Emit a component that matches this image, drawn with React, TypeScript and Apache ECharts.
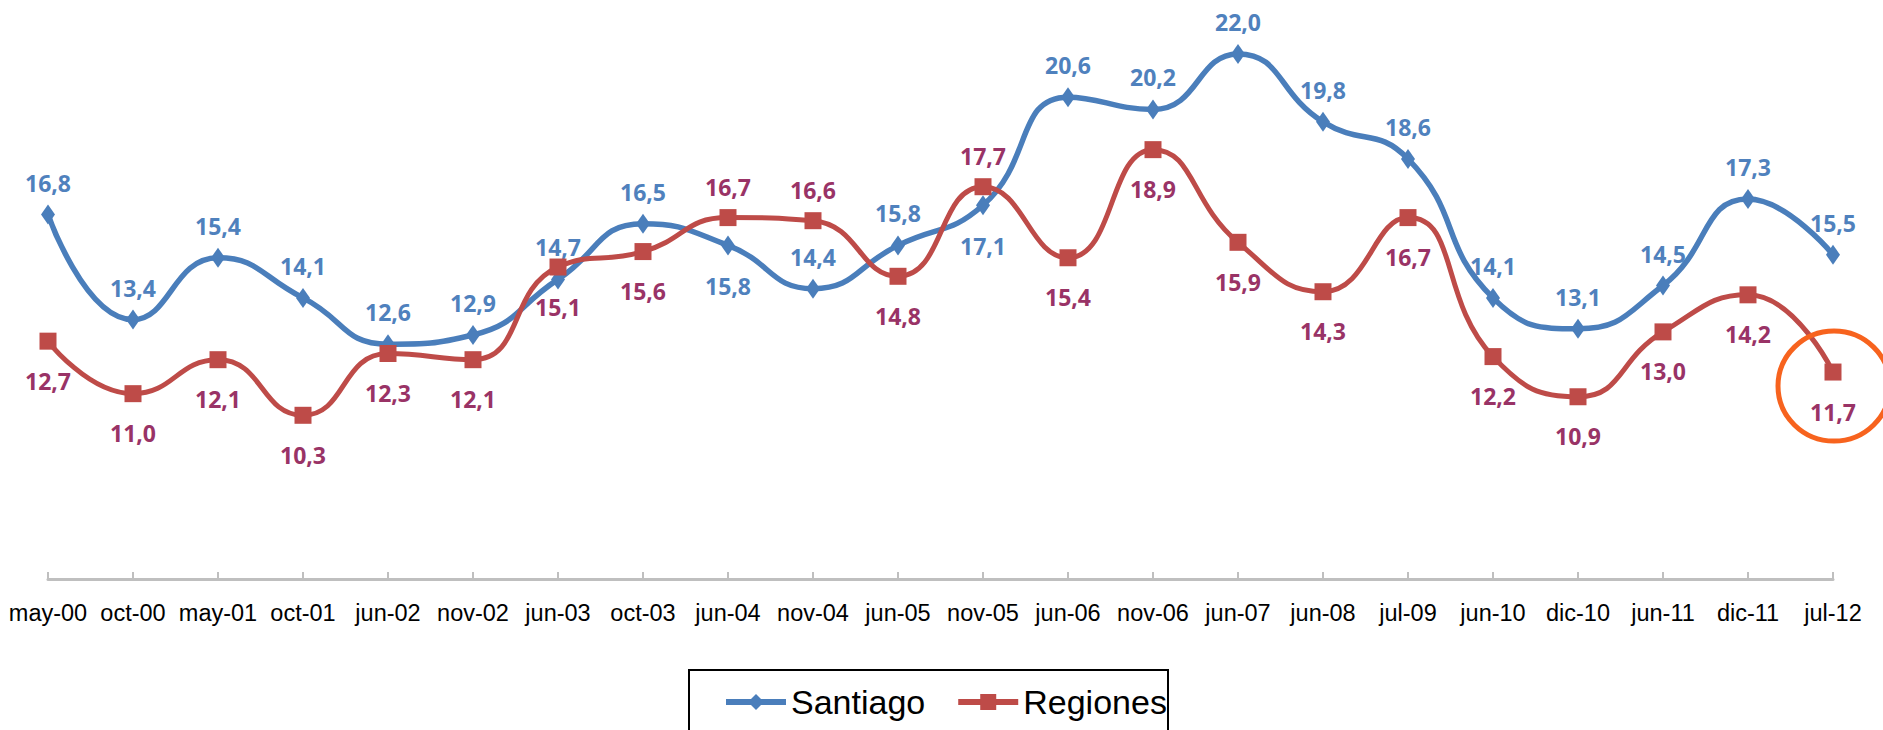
import React, { useEffect, useRef } from "react";
import * as echarts from "echarts";

const categories = [
  "may-00", "oct-00", "may-01", "oct-01", "jun-02", "nov-02", "jun-03", "oct-03",
  "jun-04", "nov-04", "jun-05", "nov-05", "jun-06", "nov-06", "jun-07", "jun-08",
  "jul-09", "jun-10", "dic-10", "jun-11", "dic-11", "jul-12",
];
const santiago = [
  16.8, 13.4, 15.4, 14.1, 12.6, 12.9, 14.7, 16.5, 15.8, 14.4, 15.8, 17.1,
  20.6, 20.2, 22.0, 19.8, 18.6, 14.1, 13.1, 14.5, 17.3, 15.5,
];
const regiones = [
  12.7, 11.0, 12.1, 10.3, 12.3, 12.1, 15.1, 15.6, 16.7, 16.6, 14.8, 17.7,
  15.4, 18.9, 15.9, 14.3, 16.7, 12.2, 10.9, 13.0, 14.2, 11.7,
];
// label placement per point ("top" = above marker, "bottom" = below)
const santiagoLabelPos = [
  "top", "top", "top", "top", "top", "top", "top", "top", "bottom", "top", "top", "bottom",
  "top", "top", "top", "top", "top", "top", "top", "top", "top", "top",
];
const regionesLabelPos = [
  "bottom", "bottom", "bottom", "bottom", "bottom", "bottom", "bottom", "bottom", "top", "top", "bottom", "top",
  "bottom", "bottom", "bottom", "bottom", "bottom", "bottom", "bottom", "bottom", "bottom", "bottom",
];
const seriesNames = ["Santiago", "Regiones"];

const BLUE = "#4A7EBB";
const RED = "#BE4B48";
const BLUE_LABEL = "#4F81BD";
const RED_LABEL = "#993366";
const NARROW = "'Liberation Sans', Arial, sans-serif";
const LABEL_FONT = "'Open Sans', 'Noto Sans', sans-serif";

const fmt = (v: number) => v.toFixed(1).replace(".", ",");

function buildData(values: number[], pos: string[]) {
  return values.map((v, i) => ({
    value: v,
    label: { position: pos[i], distance: pos[i] === "top" ? 10 : 19 },
  }));
}

export default function App() {
  const ref = useRef<HTMLDivElement>(null);

  useEffect(() => {
    if (!ref.current) return;
    const chart = echarts.init(ref.current, undefined, { renderer: "svg" });
    const labelBase = {
      show: true,
      fontFamily: LABEL_FONT,
      fontWeight: "bold" as const,
      fontSize: 23,
      lineHeight: 24,
      formatter: (p: any) => fmt(p.value),
    };
    chart.setOption({
      animation: false,
      backgroundColor: "#ffffff",
      grid: { left: 48, right: 50, top: 23, bottom: 151, containLabel: false },
      legend: {
        data: seriesNames,
        left: 723,
        top: 682,
        padding: 0,
        itemWidth: 60,
        itemHeight: 20,
        itemGap: 30,
        lineStyle: { width: 6 },
        textStyle: {
          fontFamily: NARROW,
          fontWeight: "normal",
          fontSize: 34,
          color: "#000",
          lineHeight: 40,
        },
      },
      xAxis: {
        type: "category",
        data: categories,
        boundaryGap: false,
        axisLine: { lineStyle: { color: "#BFBFBF", width: 3 } },
        axisTick: { show: true, inside: true, length: 7, lineStyle: { color: "#BFBFBF", width: 2 } },
        axisLabel: {
          interval: 0,
          color: "#000",
          fontFamily: NARROW,
          fontWeight: "normal",
          fontSize: 23.5,
          lineHeight: 28,
          margin: 20,
        },
        splitLine: { show: false },
      },
      yAxis: { type: "value", min: 5, max: 23, show: false, splitLine: { show: false } },
      series: [
        {
          name: seriesNames[0],
          type: "line",
          smooth: 0.5,
          data: buildData(santiago, santiagoLabelPos),
          symbol: "diamond",
          symbolSize: [14, 20],
          itemStyle: { color: BLUE },
          lineStyle: { color: BLUE, width: 5.5 },
          label: { ...labelBase, color: BLUE_LABEL },
          z: 2,
        },
        {
          name: seriesNames[1],
          type: "line",
          smooth: 0.5,
          data: buildData(regiones, regionesLabelPos),
          symbol: "rect",
          symbolSize: 17,
          itemStyle: { color: RED },
          lineStyle: { color: RED, width: 5 },
          label: { ...labelBase, color: RED_LABEL },
          z: 3,
        },
      ],
    });

    const last = categories.length - 1;
    const pt = chart.convertToPixel({ gridIndex: 0 }, [last, regiones[last]]) as number[];
    chart.setOption({
      graphic: [
        {
          type: "rect",
          shape: { x: 689, y: 670, width: 479, height: 90 },
          style: { fill: "none", stroke: "#000", lineWidth: 2 },
          z: 10,
        },
        {
          type: "ellipse",
          shape: { cx: pt[0] + 1, cy: pt[1] + 14, rx: 56, ry: 55 },
          style: { fill: "none", stroke: "#F7631E", lineWidth: 5 },
          z: 10,
        },
      ],
    });

    return () => chart.dispose();
  }, []);

  return (
    <div
      ref={ref}
      style={{ position: "fixed", left: 0, top: 0, width: 1883, height: 730, background: "#fff" }}
    />
  );
}
